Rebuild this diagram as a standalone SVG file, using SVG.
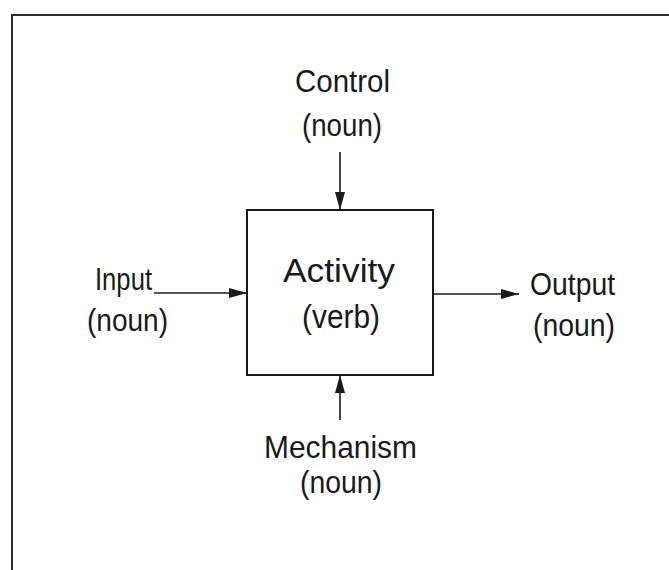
<svg xmlns="http://www.w3.org/2000/svg" width="669" height="570" viewBox="0 0 669 570">
  <style>
    .lbl { font-family: "Liberation Sans", Arial, sans-serif; font-size: 32px; fill: #1a1a1a; }
    .big { font-size: 33px; }
    .edge { stroke: #1a1a1a; stroke-width: 1.6; fill: none; }
  </style>
  <defs>
    <marker id="arrow" viewBox="0 0 18 10" refX="18" refY="5" markerWidth="18" markerHeight="10" markerUnits="userSpaceOnUse" orient="auto">
      <path d="M0,0 L18,5 L0,10 Z" fill="#1a1a1a"/>
    </marker>
  </defs>
  <rect width="669" height="570" fill="#ffffff"/>

  <!-- outer frame -->
  <path d="M12,570 L12,15 L669,15" stroke="#2a2a2a" stroke-width="2" fill="none"/>

  <g id="activity">
    <rect x="247" y="210" width="186" height="165" fill="#ffffff" stroke="#1a1a1a" stroke-width="2"/>
    <text class="lbl big" x="283" y="282" textLength="112" lengthAdjust="spacingAndGlyphs">Activity</text>
    <text class="lbl big" x="302" y="328" textLength="78" lengthAdjust="spacingAndGlyphs">(verb)</text>
  </g>

  <g id="control">
    <text class="lbl" x="295" y="92" textLength="95" lengthAdjust="spacingAndGlyphs">Control</text>
    <text class="lbl" x="302" y="136" textLength="80" lengthAdjust="spacingAndGlyphs">(noun)</text>
  </g>

  <g id="input">
    <text class="lbl" x="95" y="290" textLength="57" lengthAdjust="spacingAndGlyphs">Input</text>
    <text class="lbl" x="87" y="331" textLength="81" lengthAdjust="spacingAndGlyphs">(noun)</text>
  </g>

  <g id="output">
    <text class="lbl" x="530" y="295" textLength="85" lengthAdjust="spacingAndGlyphs">Output</text>
    <text class="lbl" x="533" y="336" textLength="82" lengthAdjust="spacingAndGlyphs">(noun)</text>
  </g>

  <g id="mechanism">
    <text class="lbl" x="264" y="458" textLength="153" lengthAdjust="spacingAndGlyphs">Mechanism</text>
    <text class="lbl" x="300" y="493" textLength="82" lengthAdjust="spacingAndGlyphs">(noun)</text>
  </g>

  <g id="connectors">
    <line class="edge" x1="340" y1="152" x2="340" y2="210" marker-end="url(#arrow)"/>
    <line class="edge" x1="154" y1="293" x2="247" y2="293" marker-end="url(#arrow)"/>
    <line class="edge" x1="433" y1="294" x2="519" y2="294" marker-end="url(#arrow)"/>
    <line class="edge" x1="340" y1="420" x2="340" y2="375" marker-end="url(#arrow)"/>
  </g>
</svg>
